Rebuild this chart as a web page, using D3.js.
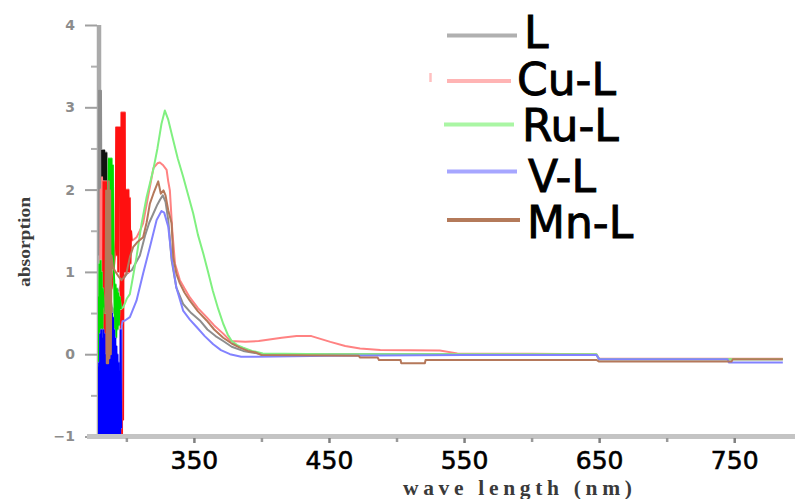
<!DOCTYPE html>
<html><head><meta charset="utf-8">
<script src="https://cdn.jsdelivr.net/npm/d3@7"></script>
<style>html,body{margin:0;padding:0;background:#fff;overflow:hidden}</style>
</head><body><svg id="chart" width="795" height="499"></svg>
<script>
// ---------------- data ----------------
const seriesNames = ["L", "Cu-L", "Ru-L", "V-L", "Mn-L"];
const xTickValues = [350, 450, 550, 650, 750];
const xMinorTicks = [300, 400, 500, 600, 700];
const yTickValues = [4, 3, 2, 1, 0, -1];
const yMinorTicks = [3.5, 2.5, 1.5, 0.5, -0.5];
const xTitle = "wave length (nm)";
const yTitle = "absorption";

// [wavelength nm, absorbance]
const dataL = [[279.2,1.2],[279.6,3.2],[280,1.3],[280.4,3.2],[280.8,1.15],[281.2,3.2],[281.6,1.5],[282,2.48],[282.4,1.14],[282.8,2.48],[283.2,1.14],[283.6,2.48],[284,1.5],[284.4,2.45],[284.8,1.5],[285.2,2.45],[285.6,1.0],[286.5,0.9],[288,0.7],[290,0.5],[292,0.6],[294,0.75],[296,0.85],[298,0.92],[300,0.97],[302,1.0],[304,1.02],[306,1.08],[310,1.2],[314,1.45],[317,1.6],[320,1.71],[323,1.82],[325,1.88],[327,1.93],[329,1.85],[331,1.63],[333.5,1.14],[337,0.81],[342,0.61],[348,0.5],[354.4,0.41],[360,0.3],[366,0.22],[371.7,0.16],[378,0.09],[386.5,0.04],[400,0.0],[450,0.0],[550,0.0],[648,-0.01],[650,-0.06],[786,-0.06]];

const dataCu = [[280.5,0.3],[281,2.0],[281.5,0.2],[282,2.15],[282.5,-0.1],[283,2.1],[283.5,0.0],[284,2.1],[284.5,-0.1],[285,2.1],[285.5,0.3],[286,1.2],[287,0.9],[288,0.75],[289,0.8],[290,0.9],[291,1.1],[292,1.4],[292.5,2.76],[293,1.2],[293.5,2.76],[294,1.0],[294.5,2.76],[295,2.0],[295.5,2.76],[296,-1],[296.4,2.94],[296.8,-1],[297.2,2.94],[297.6,-0.8],[298,2.94],[298.4,1.0],[298.8,2.94],[299.2,1.0],[299.6,2.0],[300,1.0],[300.5,2.0],[301,1.0],[301.5,2.0],[302,1.0],[302.5,1.9],[303,1.1],[303.5,1.5],[304,1.38],[306,1.40],[307.5,1.42],[310,1.5],[312.4,1.59],[316,1.91],[320,2.26],[323,2.32],[324.8,2.33],[327,2.3],[329.8,2.24],[331,2.1],[332.2,1.99],[334,1.5],[336,1.10],[339.6,0.90],[343,0.8],[347,0.69],[353,0.56],[359.4,0.45],[365,0.35],[371.7,0.25],[377,0.16],[388,0.15],[398,0.16],[415,0.2],[426,0.22],[437,0.22],[451,0.15],[462,0.1],[473,0.07],[488,0.05],[532,0.045],[545,0.01],[600,0.005],[648,0.0],[650,-0.055],[786,-0.055]];

const dataRu = [[279.3,0.7],[279.7,-0.1],[280.1,1.1],[280.5,-0.1],[280.9,1.14],[281.3,-0.1],[281.7,1.0],[282.1,0.0],[282.5,0.8],[283.5,0.6],[284.5,0.5],[285.5,0.6],[286.5,1.0],[287,2.38],[287.5,1.06],[288,2.38],[288.5,1.06],[289,2.38],[289.5,1.1],[290,2.3],[290.5,1.06],[291,0.9],[291.5,0.3],[292,0.85],[292.5,0.2],[293,0.8],[293.5,0.3],[294,0.75],[294.5,0.35],[295,0.7],[296,0.55],[297.6,0.57],[299,0.62],[300.5,0.68],[302.6,0.73],[305,0.95],[307.5,1.18],[311.3,1.59],[315,1.91],[319.9,2.24],[323,2.5],[326,2.8],[328.5,2.96],[331,2.85],[334.7,2.60],[338,2.38],[342,2.16],[346,1.92],[349.5,1.71],[353,1.45],[357,1.22],[360.5,1.0],[364,0.77],[368,0.55],[371.7,0.37],[375,0.24],[378,0.16],[382,0.11],[386.5,0.08],[393,0.04],[401,0.01],[450,0.0],[550,0.0],[648,0.0],[650,-0.06],[786,-0.06]];

const dataV = [[279,-0.15],[279.4,-1],[279.8,-0.1],[280.2,-1],[280.6,0.25],[281,-1],[281.4,0.3],[281.8,-1],[282.2,0.2],[282.6,-1],[283,0.3],[283.4,-1],[283.8,0.25],[284.2,-1],[284.6,0.0],[285,-1],[285.4,-0.1],[285.8,-1],[286.2,-0.05],[286.6,-1],[287,-0.1],[287.4,-1],[287.8,0.3],[288.2,-1],[288.6,0.5],[289,-1],[289.4,0.5],[289.8,-1],[290.2,0.45],[290.6,-1],[291,0.3],[291.4,-1],[291.8,0.2],[292.2,-1],[292.6,0.1],[293,-1],[293.4,0.0],[293.8,-1],[294.2,-0.1],[294.6,-1],[295,-0.2],[295.4,-1],[295.8,0.3],[296.2,-0.9],[296.6,0.35],[297.2,0.4],[299,0.41],[302.6,0.45],[307.5,0.65],[312.4,0.98],[317.4,1.30],[322.4,1.63],[326,1.74],[328,1.72],[331,1.55],[333.5,1.18],[337,0.81],[342,0.53],[347,0.42],[352,0.33],[358,0.22],[364.3,0.12],[370,0.05],[376.7,0.0],[385,-0.03],[396,-0.03],[450,-0.02],[550,-0.01],[648,-0.01],[650,-0.06],[745,-0.06],[746,-0.1],[786,-0.1]];

const dataMn = [[284.5,0.5],[285,1.99],[285.5,-0.11],[286,1.99],[286.5,-0.11],[287,2.1],[287.5,-0.05],[288,1.99],[288.5,0.0],[289,1.2],[290,1.06],[292,1.0],[294,0.95],[296.4,0.90],[298,0.93],[300,0.98],[302.6,1.18],[305,1.30],[308,1.36],[312.4,1.42],[315,1.6],[317.4,1.83],[320,1.95],[323.6,2.10],[325.5,1.95],[327.5,1.99],[329,1.93],[331,1.75],[333.5,1.59],[334.7,1.18],[337,0.98],[339.6,0.86],[343,0.75],[347,0.65],[353,0.52],[359.4,0.41],[365,0.3],[371.7,0.20],[378,0.13],[384,0.08],[390,0.04],[396,0.02],[400,-0.01],[472,-0.02],[473,-0.04],[486,-0.04],[487,-0.07],[503,-0.07],[503.5,-0.11],[521,-0.11],[521.5,-0.07],[648,-0.07],[650,-0.09],[748,-0.09],[749,-0.06],[786,-0.06]];

const seriesData = [dataL, dataCu, dataRu, dataV, dataMn];
// wavelength window of the dense noisy region, drawn in the saturated colour
const spikeRanges = [[281.8, 286], [282.5, 304], [279, 296], [279, 296.5], null];

// ---------------- styles ----------------
const lineColors  = ["#8e8e8e", "#ff8282", "#80f080", "#8282ff", "#b5785a"];
const spikeColors = ["#111111", "#ff1010", "#00dd00", "#0000ff", "#b5785a"];
const legendLineColors = ["#b0b0b0", "#ffb4b4", "#aaf6a4", "#a6a6ff", "#b47a5a"];
const legendLineY = [35.5, 81, 124.5, 171.5, 220];
const legendLineX = [[447,517],[447,511],[444,514],[447,517],[447,520]];
const legendTextX = [524, 517, 522, 528, 527];
const legendTextY = [48, 95, 141, 192, 238];

const W = 795, H = 499;
const svg = d3.select("#chart");

const x = d3.scaleLinear().domain([279, 795]).range([98, 795]);
const y = d3.scaleLinear().domain([-1, 4]).range([436.5, 25]);

// clip
svg.append("defs").append("clipPath").attr("id", "plotclip")
  .append("rect").attr("x", 98).attr("y", 20).attr("width", 700).attr("height", 418);

// y axis line (thick grey)
svg.append("line").attr("x1", 99).attr("x2", 99).attr("y1", y(4)).attr("y2", 437)
  .attr("stroke", "#aaaaaa").attr("stroke-width", 4.5);

// y ticks
const yAxis = d3.axisLeft(y).tickValues(yTickValues).tickSize(12).tickPadding(11)
  .tickFormat(d3.format("d"));
const gy = svg.append("g").attr("transform", "translate(97,0)").call(yAxis);
gy.select(".domain").remove();
gy.selectAll(".tick line").attr("stroke", "#a0a0a0").attr("stroke-width", 2);
gy.selectAll(".tick text").attr("fill", "#8c8c8c")
  .style("font-family", "'DejaVu Sans', sans-serif").style("font-size", "14px")
  .style("font-weight", "bold").attr("x", -22);
const yMinor = d3.axisLeft(y).tickValues(yMinorTicks).tickSize(6).tickFormat("");
const gym = svg.append("g").attr("transform", "translate(97,0)").call(yMinor);
gym.select(".domain").remove();
gym.selectAll(".tick line").attr("stroke", "#b0b0b0").attr("stroke-width", 2);

// data lines
const line = d3.line().x(d => x(d[0])).y(d => y(d[1])).curve(d3.curveLinear);
const plot = svg.append("g").attr("clip-path", "url(#plotclip)");
seriesData.forEach((data, i) => {
  plot.append("path").datum(data).attr("d", line)
    .attr("fill", "none").attr("stroke", lineColors[i]).attr("stroke-width", 2)
    .attr("stroke-linejoin", "round");
  const r = spikeRanges[i];
  if (r) {
    plot.append("path").datum(data.filter(d => d[0] >= r[0] && d[0] <= r[1]))
      .attr("d", line).attr("fill", "none").attr("stroke", spikeColors[i])
      .attr("stroke-width", 1.8).attr("stroke-linejoin", "miter");
  }
});

// x axis line (light grey band)
svg.append("line").attr("x1", 87).attr("x2", W).attr("y1", 436.5).attr("y2", 436.5)
  .attr("stroke", "#c4c4c4").attr("stroke-width", 5);

const xAxis = d3.axisBottom(x).tickValues(xTickValues).tickSize(5).tickPadding(8)
  .tickFormat(d3.format("d"));
const gx = svg.append("g").attr("transform", "translate(0,438)").call(xAxis);
gx.select(".domain").remove();
gx.selectAll(".tick line").attr("stroke", "#808080").attr("stroke-width", 2.5);
gx.selectAll(".tick text").attr("fill", "#000").attr("stroke", "#000").attr("stroke-width", 0.6)
  .style("font-family", "'DejaVu Sans', sans-serif").style("font-size", "25px")
  .attr("y", 31).attr("dy", "0px");
const xMinor = d3.axisBottom(x).tickValues(xMinorTicks).tickSize(4).tickFormat("");
const gxm = svg.append("g").attr("transform", "translate(0,438)").call(xMinor);
gxm.select(".domain").remove();
gxm.selectAll(".tick line").attr("stroke", "#9a9a9a").attr("stroke-width", 2.5);

// axis titles
svg.append("text").text(xTitle)
  .attr("x", 403).attr("y", 494.5).attr("textLength", 229).attr("lengthAdjust", "spacing")
  .style("font-family", "'Liberation Serif', serif").style("font-weight", "bold")
  .style("font-size", "21.5px").attr("fill", "#3a3a3a");
svg.append("text").text(yTitle)
  .attr("transform", "translate(30,287) rotate(-90)")
  .attr("textLength", 90).attr("lengthAdjust", "spacingAndGlyphs")
  .style("font-family", "'Liberation Serif', serif").style("font-weight", "bold")
  .style("font-size", "16px").attr("fill", "#3c3c3c");

// legend
const lg = svg.append("g");
seriesNames.forEach((name, i) => {
  lg.append("line").attr("x1", legendLineX[i][0]).attr("x2", legendLineX[i][1])
    .attr("y1", legendLineY[i]).attr("y2", legendLineY[i])
    .attr("stroke", legendLineColors[i]).attr("stroke-width", 4);
  lg.append("text").text(name).attr("x", legendTextX[i]).attr("y", legendTextY[i])
    .style("font-family", "'DejaVu Sans', sans-serif").style("font-size", "44px")
    .attr("fill", "#000").attr("stroke", "#000").attr("stroke-width", 0.9);
});
// small pink artefact left of the Cu-L legend entry
lg.append("line").attr("x1", 430.5).attr("x2", 430.5).attr("y1", 73).attr("y2", 82)
  .attr("stroke", "#ffc0c0").attr("stroke-width", 2.5);
</script>
</body></html>
